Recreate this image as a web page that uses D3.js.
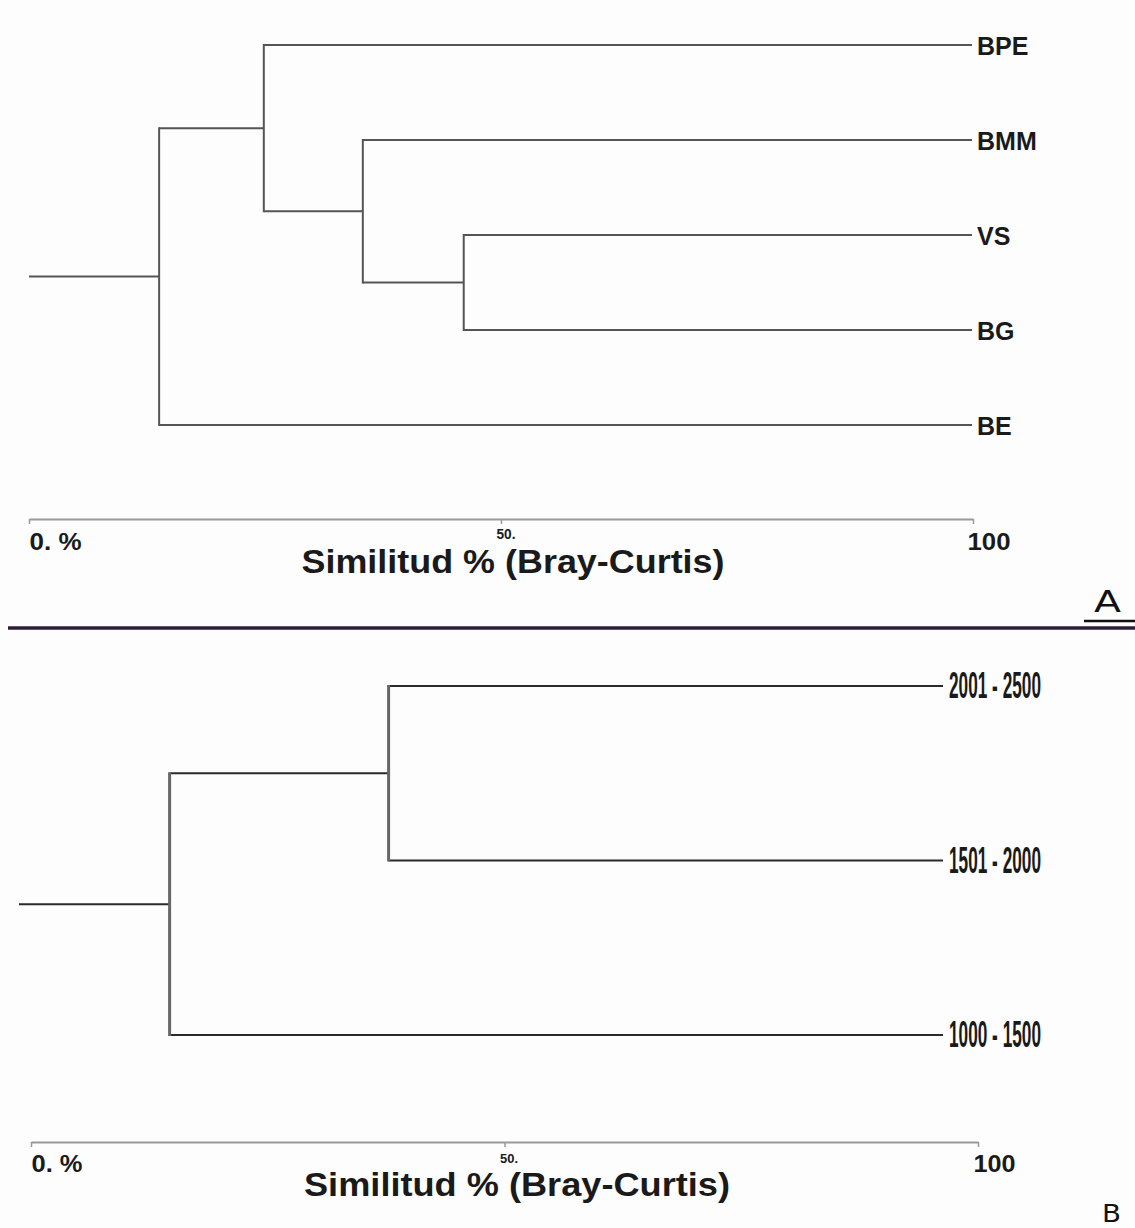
<!DOCTYPE html>
<html>
<head>
<meta charset="utf-8">
<script src="https://cdnjs.cloudflare.com/ajax/libs/d3/7.8.5/d3.min.js"></script>
<style>
  body { margin: 0; background: #fdfdfd; }
  svg { display: block; }
</style>
</head>
<body>
<div id="chart"></div>
<script>
// Panel A: sites
var leavesA = ["BPE", "BMM", "VS", "BG", "BE"];
// each merge joins two items: a leaf name or the index of an earlier merge
var mergesA = [["VS", "BG"], ["BMM", 0], ["BPE", 1], [2, "BE"]];
var simA = [46.1, 35.4, 24.9, 13.8];

// Panel B: altitude ranges
var leavesB = ["2001 - 2500", "1501 - 2000", "1000 - 1500"];
var mergesB = [["2001 - 2500", "1501 - 2000"], [0, "1000 - 1500"]];
var simB = [40.0, 16.3];

var axisTicks = [0, 50, 100];
var tickLabels = ["0. %", "50.", "100"];
var axisTitle = "Similitud % (Bray-Curtis)";

var svgWidth = 1135;
var svgHeight = 1228;

var svg = d3.select("#chart")
  .append("svg")
  .attr("width", svgWidth)
  .attr("height", svgHeight);

svg.append("rect")
  .attr("width", svgWidth)
  .attr("height", svgHeight)
  .attr("fill", "#fdfdfd");

function drawPanel(p) {
  var g = svg.append("g");

  var treeX = d3.scaleLinear().domain([0, 100]).range(p.treeRange);
  var axisX = d3.scaleLinear().domain([0, 100]).range(p.axisRange);
  var yLeaf = d3.scalePoint().domain(p.leaves).range(p.leafY);

  // work out node positions
  var nodes = [];
  function pos(item) {
    if (typeof item === "number") return nodes[item];
    return { x: treeX(100), y: yLeaf(item) };
  }
  p.merges.forEach(function(m, i) {
    var a = pos(m[0]), b = pos(m[1]);
    nodes.push({ x: treeX(p.sims[i]), y: (a.y + b.y) / 2, a: a, b: b });
  });

  // horizontal branches
  nodes.forEach(function(n) {
    [n.a, n.b].forEach(function(c) {
      g.append("line")
        .attr("x1", n.x).attr("x2", c.x)
        .attr("y1", c.y).attr("y2", c.y)
        .attr("stroke", p.hColor)
        .attr("stroke-width", p.hWidth);
    });
  });
  var root = nodes[nodes.length - 1];
  g.append("line")
    .attr("x1", treeX(0)).attr("x2", root.x)
    .attr("y1", root.y).attr("y2", root.y)
    .attr("stroke", p.hColor)
    .attr("stroke-width", p.hWidth);

  // vertical branches
  nodes.forEach(function(n) {
    g.append("line")
      .attr("x1", n.x).attr("x2", n.x)
      .attr("y1", n.a.y - p.hWidth / 2).attr("y2", n.b.y + p.hWidth / 2)
      .attr("stroke", p.vColor)
      .attr("stroke-width", p.vWidth);
  });

  // leaf labels (squeezed horizontally when labelWidth is set)
  var labels = g.selectAll(".leaf")
    .data(p.leaves)
    .enter()
    .append("g")
    .attr("class", "leaf")
    .attr("transform", d => `translate(${treeX(100) + p.labelDx}, ${yLeaf(d) + p.labelDy})`)
    .append("text")
    .attr("font-family", p.labelFont)
    .attr("font-weight", "bold")
    .attr("font-size", p.labelSize)
    .attr("fill", "#1a1a1a")
    .text(d => d);

  if (p.labelWidth) {
    labels.attr("transform", function() {
      var w = this.getComputedTextLength();
      return `scale(${p.labelWidth / w}, 1)`;
    });
  }

  // axis
  var axis = d3.axisBottom(axisX)
    .tickValues(axisTicks)
    .tickSize(5)
    .tickSizeOuter(0)
    .tickFormat((d, i) => tickLabels[i]);

  var ag = g.append("g")
    .attr("transform", `translate(0, ${p.axisY})`)
    .call(axis);
  ag.select(".domain").attr("stroke", "#9a9a9a").attr("stroke-width", 2);
  ag.selectAll(".tick line").attr("stroke", "#9a9a9a").attr("stroke-width", 1.5);
  ag.selectAll(".tick text")
    .attr("font-family", "Liberation Sans, Arial, sans-serif")
    .attr("font-weight", "bold")
    .attr("fill", "#1a1a1a")
    .attr("text-anchor", "start")
    .attr("dy", null)
    .attr("x", (d, i) => p.tickDx[i])
    .attr("y", (d, i) => p.tickDy[i])
    .attr("font-size", (d, i) => p.tickSize[i])
    .attr("textLength", (d, i) => p.tickLen[i])
    .attr("lengthAdjust", "spacingAndGlyphs");

  g.append("text")
    .attr("x", p.titleX)
    .attr("y", p.titleY)
    .attr("text-anchor", "middle")
    .attr("font-family", "Liberation Sans, Arial, sans-serif")
    .attr("font-weight", "bold")
    .attr("font-size", 33)
    .attr("fill", "#1a1a1a")
    .attr("textLength", p.titleLen)
    .attr("lengthAdjust", "spacingAndGlyphs")
    .text(axisTitle);

  g.append("text")
    .attr("x", p.letterX)
    .attr("y", p.letterY)
    .attr("font-family", "DejaVu Sans, sans-serif")
    .attr("font-size", p.letterSize)
    .attr("fill", "#111")
    .attr("textLength", p.letterLen)
    .attr("lengthAdjust", "spacingAndGlyphs")
    .text(p.letter);
}

drawPanel({
  leaves: leavesA, merges: mergesA, sims: simA,
  treeRange: [29, 972], axisRange: [29, 973], leafY: [45, 425],
  hColor: "#555", hWidth: 2, vColor: "#555", vWidth: 2,
  labelDx: 5, labelDy: 10, labelSize: 25,
  labelFont: "Liberation Sans, Arial, sans-serif", labelWidth: null,
  axisY: 519,
  tickDx: [0, -5, -6], tickDy: [31, 20, 31], tickSize: [23, 14, 23], tickLen: [52, 19, 43],
  titleX: 513, titleY: 573, titleLen: 423,
  letter: "A", letterX: 1094, letterY: 612, letterSize: 30, letterLen: 27
});

drawPanel({
  leaves: leavesB, merges: mergesB, sims: simB,
  treeRange: [19, 943], axisRange: [31, 978], leafY: [686, 1035],
  hColor: "#2a2a2a", hWidth: 2, vColor: "#666", vWidth: 3,
  labelDx: 6, labelDy: 12, labelSize: 37,
  labelFont: "Liberation Sans Narrow, Arial Narrow, Liberation Sans, sans-serif", labelWidth: 92,
  axisY: 1142,
  tickDx: [0, -5, -5], tickDy: [30, 21, 30], tickSize: [23, 12, 23], tickLen: [51, 18, 42],
  titleX: 517, titleY: 1196, titleLen: 426,
  letter: "B", letterX: 1102, letterY: 1222, letterSize: 25, letterLen: 19
});

// divider between the panels
svg.append("line")
  .attr("x1", 8).attr("x2", svgWidth)
  .attr("y1", 628).attr("y2", 628)
  .attr("stroke", "#2d1e3a")
  .attr("stroke-width", 3.5);

svg.append("line")
  .attr("x1", 1084).attr("x2", svgWidth)
  .attr("y1", 621).attr("y2", 621)
  .attr("stroke", "#111")
  .attr("stroke-width", 2.5);
</script>
</body>
</html>
